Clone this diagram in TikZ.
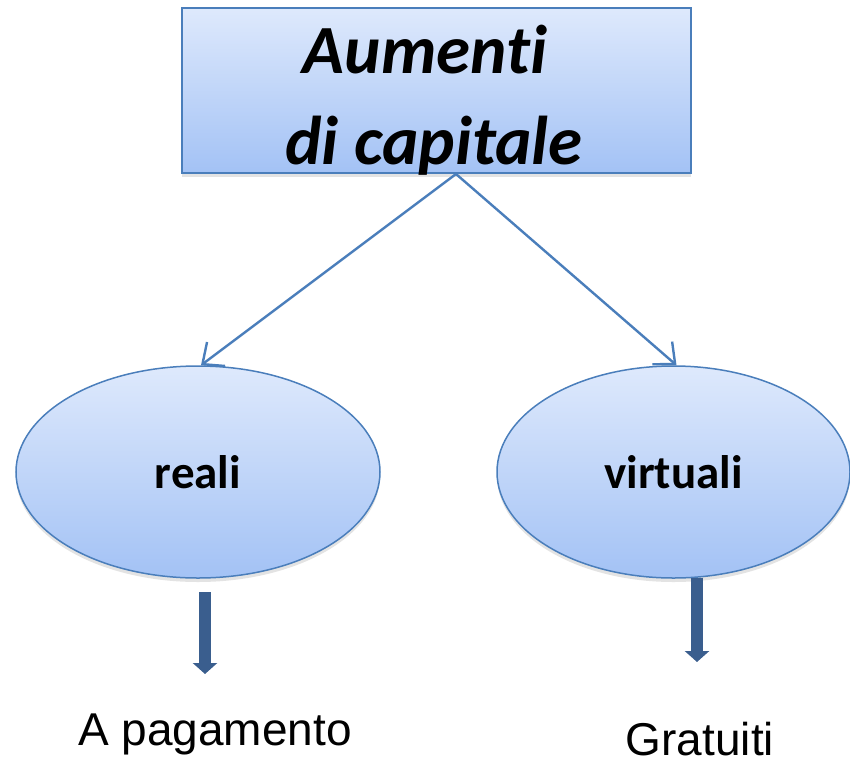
\documentclass[tikz,border=0pt]{standalone}
\usepackage{fontspec}
\setmainfont[Ligatures={NoCommon}]{Carlito}
\newfontfamily\arialf{Liberation Sans}
\usetikzlibrary{arrows.meta,shapes.geometric,shadows}
\definecolor{gtop}{RGB}{222,233,252}
\definecolor{gbot}{RGB}{163,194,245}
\definecolor{edgeblue}{RGB}{74,126,187}
\definecolor{darkarrow}{RGB}{58,94,142}
\tikzset{
  shaded/.style={top color=gtop, bottom color=gbot, draw=edgeblue, line width=1.5pt,
    drop shadow={opacity=0.18, shadow xshift=0pt, shadow yshift=-4pt, fill=black!60}},
  titlebox/.style={shaded, rectangle, inner sep=0pt, minimum width=509pt, minimum height=165pt},
  oval/.style={shaded, ellipse, inner sep=0pt, font=\fontsize{47}{56}\selectfont\bfseries},
  titletext/.style={inner sep=0pt, anchor=base, font=\fontsize{69}{82}\selectfont\bfseries\itshape},
  bottomtext/.style={inner sep=0pt, anchor=base, font=\arialf\fontsize{46}{55}\selectfont},
  thinarrow/.style={draw=edgeblue, line width=2.4pt, -{Straight Barb[length=17pt, width=30pt, line width=2.4pt]}},
  bigarrow/.style={draw=darkarrow, line width=12pt, -{Triangle[length=11pt, width=24pt]}}
}
\begin{document}
\begin{tikzpicture}[x=1pt, y=-1pt]
\useasboundingbox (0,0) rectangle (850,763);
% title box
\node[titlebox] (box) at (436.5,90.5) {};
\node[titletext] (t1) at (425,73) {Aumenti};
\node[titletext] (t2) at (434,164) {di capitale};
% ellipses
\node[oval, minimum width=364pt, minimum height=212pt] (reali) at (198,472) {reali};
\node[oval, minimum width=353pt, minimum height=212pt] (virt) at (673.5,472) {virtuali};
% connectors
\coordinate (apex) at (456,174);
\draw[thinarrow] (apex) -- ([xshift=3pt]reali.north);
\draw[thinarrow] (apex) -- ([xshift=3pt]virt.north);
% bottom texts
\node[bottomtext] (pag) at (215,745) {A pagamento};
\node[bottomtext] (grat) at (700,755) {Gratuiti};
% thick arrows
\coordinate (a1s) at (205,592);
\coordinate (a1e) at (205,674);
\coordinate (a2s) at (697,578);
\coordinate (a2e) at (697,662);
\draw[bigarrow] (a1s) -- (a1e);
\draw[bigarrow] (a2s) -- (a2e);
\end{tikzpicture}
\end{document}
